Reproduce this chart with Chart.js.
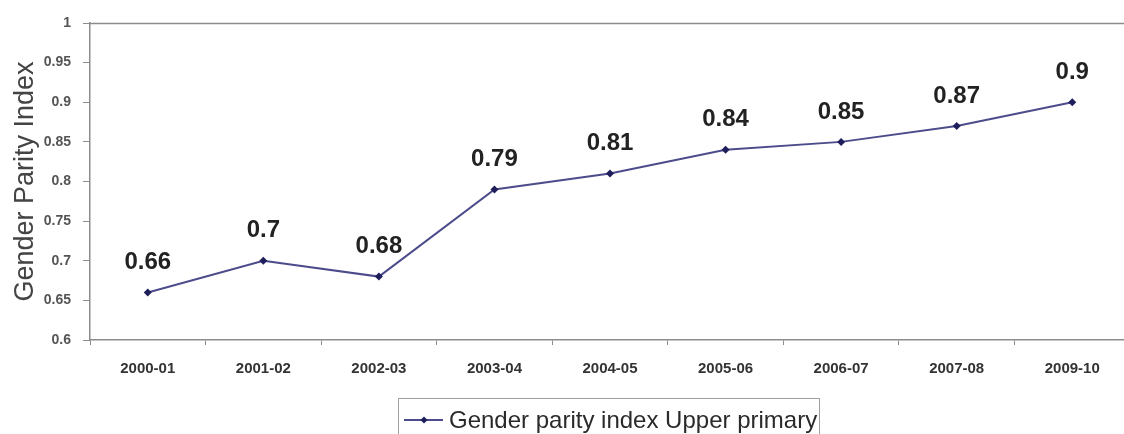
<!DOCTYPE html>
<html>
<head>
<meta charset="utf-8">
<script src="https://cdn.jsdelivr.net/npm/chart.js@4/dist/chart.umd.min.js"></script>
<style>
  html, body { margin: 0; padding: 0; background: #fff; overflow: hidden; }
  #wrap { width: 1134px; height: 434px; }
</style>
</head>
<body>
<div id="wrap"><canvas id="c" width="1134" height="434"></canvas></div>
<script>
// School years on the category axis
const years = ['2000-01', '2001-02', '2002-03', '2003-04', '2004-05', '2005-06', '2006-07', '2007-08', '2009-10'];
// Gender parity index, upper primary level
const gpiUpperPrimary = [0.66, 0.7, 0.68, 0.79, 0.81, 0.84, 0.85, 0.87, 0.9];
// Value axis ticks
const yTicks = [0.6, 0.65, 0.7, 0.75, 0.8, 0.85, 0.9, 0.95, 1];

const seriesLabel = 'Gender parity index Upper primary';
const lineColor = '#4c4c8c';
const pointColor = '#1e1e5a';
const axisGrey = '#8c8c8c';
const fontFamily = 'Arial, "Liberation Sans", sans-serif';

// Value labels above each point
const valueLabels = {
  id: 'valueLabels',
  afterDatasetsDraw(chart) {
    const ctx = chart.ctx;
    const meta = chart.getDatasetMeta(0);
    const data = chart.data.datasets[0].data;
    ctx.save();
    ctx.font = 'bold 24px ' + fontFamily;
    ctx.fillStyle = '#222';
    ctx.textAlign = 'center';
    ctx.textBaseline = 'middle';
    meta.data.forEach((pt, i) => {
      ctx.fillText(String(data[i]), pt.x, pt.y - 30);
    });
    ctx.restore();
  }
};

// Top border of the plot area and boxed legend beneath the axis
const frameAndLegend = {
  id: 'frameAndLegend',
  afterDraw(chart) {
    const ctx = chart.ctx;
    const a = chart.chartArea;
    ctx.save();
    ctx.strokeStyle = axisGrey;
    ctx.lineWidth = 1.5;
    ctx.beginPath();
    ctx.moveTo(a.left, a.top + 0.5);
    ctx.lineTo(a.right, a.top + 0.5);
    ctx.moveTo(a.right - 0.5, a.top);
    ctx.lineTo(a.right - 0.5, a.bottom);
    ctx.stroke();

    // legend box
    ctx.strokeStyle = '#a0a0a0';
    ctx.lineWidth = 1;
    ctx.strokeRect(398.5, 398.5, 421, 50);
    // legend symbol
    const ly = 420;
    ctx.strokeStyle = lineColor;
    ctx.lineWidth = 2;
    ctx.beginPath();
    ctx.moveTo(404, ly);
    ctx.lineTo(443, ly);
    ctx.stroke();
    ctx.fillStyle = pointColor;
    ctx.beginPath();
    ctx.moveTo(424, ly - 3.5);
    ctx.lineTo(427.5, ly);
    ctx.lineTo(424, ly + 3.5);
    ctx.lineTo(420.5, ly);
    ctx.closePath();
    ctx.fill();
    // legend text
    ctx.font = '24px ' + fontFamily;
    ctx.fillStyle = '#2a2a2a';
    ctx.textAlign = 'left';
    ctx.textBaseline = 'middle';
    ctx.fillText(chart.data.datasets[0].label, 449, ly + 1);
    ctx.restore();
  }
};

new Chart(document.getElementById('c'), {
  type: 'line',
  data: {
    labels: years,
    datasets: [{
      label: seriesLabel,
      data: gpiUpperPrimary,
      borderColor: lineColor,
      borderWidth: 2,
      backgroundColor: pointColor,
      pointStyle: 'rectRot',
      pointRadius: 4,
      pointBackgroundColor: pointColor,
      pointBorderColor: pointColor,
      pointBorderWidth: 0,
      tension: 0,
      fill: false
    }]
  },
  options: {
    responsive: false,
    animation: false,
    layout: { padding: { top: 23, right: 2, left: 0, bottom: 0 } },
    plugins: {
      legend: { display: false },
      tooltip: { enabled: false }
    },
    scales: {
      x: {
        type: 'category',
        offset: true,
        grid: {
          offset: true,
          drawOnChartArea: false,
          drawTicks: true,
          tickLength: 5,
          color: axisGrey,
          lineWidth: 1
        },
        border: { display: true, color: axisGrey, width: 1.5 },
        ticks: {
          color: '#333',
          font: { family: fontFamily, size: 15, weight: 'bold' },
          padding: 15,
          maxRotation: 0,
          autoSkip: false
        },
        afterFit(scale) { scale.height = 94; }
      },
      y: {
        min: 0.6,
        max: 1,
        afterBuildTicks(scale) { scale.ticks = yTicks.map(v => ({ value: v })); },
        grid: {
          drawOnChartArea: false,
          drawTicks: true,
          tickLength: 7,
          color: axisGrey,
          lineWidth: 1
        },
        border: { display: true, color: axisGrey, width: 1.5 },
        ticks: {
          color: '#555',
          font: { family: fontFamily, size: 14, weight: 'bold' },
          padding: 12,
          callback: v => String(Number(v.toFixed(2)))
        },
        title: {
          display: true,
          text: 'Gender Parity Index',
          color: '#444',
          font: { family: fontFamily, size: 27 },
          padding: { top: 9, bottom: 0 }
        },
        afterFit(scale) { scale.width = 90; }
      }
    }
  },
  plugins: [valueLabels, frameAndLegend]
});
</script>
</body>
</html>
